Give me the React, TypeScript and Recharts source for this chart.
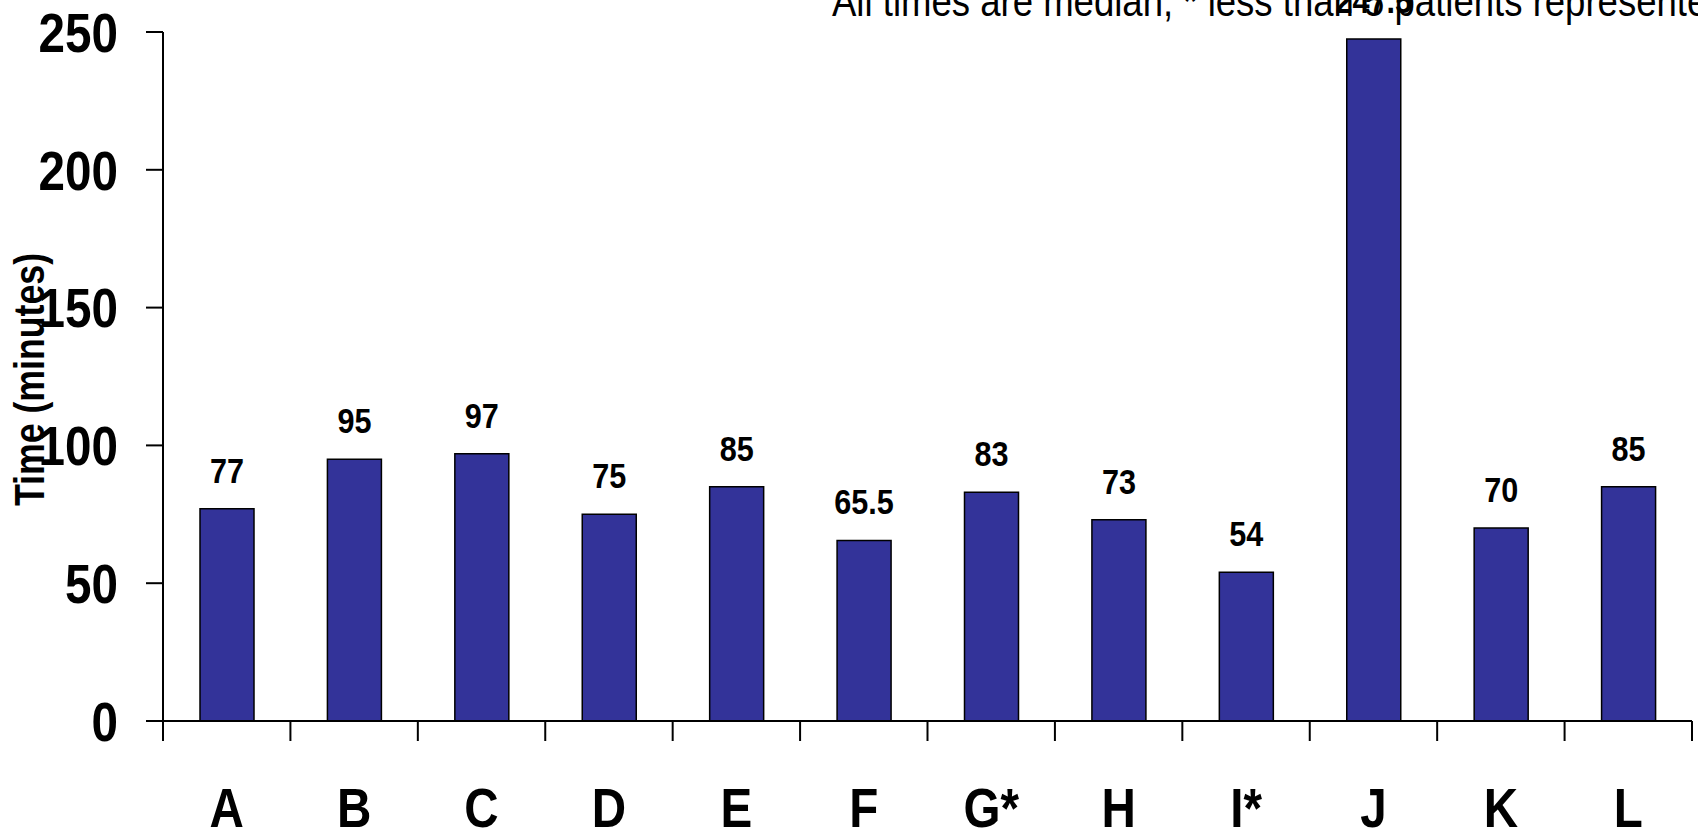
import { BarChart, Bar, XAxis, YAxis, LabelList } from "recharts";

// Médianes par centre (minutes)
const sites = ["A", "B", "C", "D", "E", "F", "G*", "H", "I*", "J", "K", "L"];
const medianMinutes = [77, 95, 97, 75, 85, 65.5, 83, 73, 54, 247.5, 70, 85];
const yTicks = [0, 50, 100, 150, 200, 250];
const note = "All times are median, * less than 5 patients represented";

const W = 1698;
const H = 833;
const FONT = "'Liberation Sans', Arial, sans-serif";
// pas de police "narrow" installée : on compresse horizontalement
const SQUEEZE = 0.85;

const data = sites.map((name, i) => ({ name, value: medianMinutes[i] }));

const Narrow = ({ x, y, size, bold = true, anchor = "middle", rotate = 0, dy, children }: any) => (
    <text
        transform={`translate(${x},${y})${rotate ? ` rotate(${rotate})` : ""} scale(${SQUEEZE},1)`}
        textAnchor={anchor}
        dy={dy}
        fontSize={size}
        fontWeight={bold ? "bold" : "normal"}
        fill="#000"
        style={{ fontFamily: FONT }}
    >
        {children}
    </text>
);

const SiteTick = (props: any) => {
    const { x, y, payload, index } = props;
    const half = payload?.offset || (W - 163 - 6) / sites.length / 2;
    return (
        <g>
            <line x1={x - half} y1={y} x2={x - half} y2={y + 20} stroke="#000" strokeWidth={2} />
            {index === sites.length - 1 && (
                <line x1={x + half} y1={y} x2={x + half} y2={y + 20} stroke="#000" strokeWidth={2} />
            )}
            <Narrow x={x} y={y + 106} size={56}>
                {payload.value}
            </Narrow>
        </g>
    );
};

const ValueTick = (props: any) => {
    const { x, y, payload } = props;
    return (
        <Narrow x={x} y={y} size={56} anchor="end" dy="0.355em">
            {payload.value}
        </Narrow>
    );
};

const AxisTitle = (props: any) => {
    const vb = props.viewBox || { x: 0, y: 32, width: 163, height: 689 };
    return (
        <Narrow x={vb.x + 29} y={vb.y + vb.height / 2 + 3} size={42} rotate={-90} dy="0.355em">
            Time (minutes)
        </Narrow>
    );
};

const BarValue = (props: any) => {
    const { x, y, width, value } = props;
    return (
        <Narrow x={x + width / 2} y={y - 26} size={36}>
            {value}
        </Narrow>
    );
};

export default function App() {
    return (
        <div style={{ position: "absolute", left: 0, top: 0, width: W, height: H, fontFamily: FONT }}>
            <BarChart
                width={W}
                height={H}
                data={data}
                margin={{ top: 32, right: 6, left: 0, bottom: 0 }}
                barCategoryGap={0}
            >
                <XAxis
                    dataKey="name"
                    height={112}
                    tickSize={0}
                    tickMargin={0}
                    tickLine={false}
                    axisLine={{ stroke: "#000", strokeWidth: 2 }}
                    tick={<SiteTick />}
                    interval={0}
                />
                <XAxis
                    xAxisId="top"
                    dataKey="name"
                    orientation="top"
                    height={0}
                    tick={false}
                    tickLine={false}
                    axisLine={{ stroke: "#000", strokeWidth: 2 }}
                />
                <YAxis
                    width={163}
                    domain={[0, 250]}
                    ticks={yTicks}
                    tickSize={17}
                    tickMargin={28}
                    tick={<ValueTick />}
                    tickLine={{ stroke: "#000", strokeWidth: 2 }}
                    axisLine={{ stroke: "#000", strokeWidth: 2 }}
                    label={<AxisTitle />}
                />
                <YAxis
                    yAxisId="right"
                    orientation="right"
                    width={0}
                    domain={[0, 250]}
                    tick={false}
                    tickLine={false}
                    axisLine={{ stroke: "#000", strokeWidth: 2 }}
                />
                <Bar
                    dataKey="value"
                    barSize={54}
                    fill="#333399"
                    stroke="#000"
                    strokeWidth={1.5}
                    isAnimationActive={false}
                >
                    <LabelList dataKey="value" content={<BarValue />} />
                </Bar>
            </BarChart>
            <svg width={W} height={40} style={{ position: "absolute", left: 0, top: 0, pointerEvents: "none" }}>
                <Narrow x={832} y={16} size={43} bold={false} anchor="start">
                    {note}
                </Narrow>
            </svg>
        </div>
    );
}
